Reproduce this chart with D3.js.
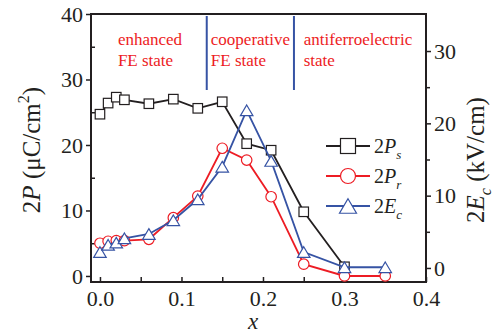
<!DOCTYPE html>
<html>
<head>
<meta charset="utf-8">
<script src="https://cdn.jsdelivr.net/npm/d3@7"></script>
</head>
<body style="margin:0">
<script>
// composition x and measured values
var xs  = [0, 0.01, 0.02, 0.03, 0.06, 0.09, 0.12, 0.15, 0.18, 0.21, 0.25, 0.30, 0.35];
var Ps  = [24.7, 26.4, 27.3, 26.9, 26.3, 27.0, 25.6, 26.6, 20.2, 19.2, 9.8, 1.4, null];
var Pr  = [5.0, 5.3, 5.4, 5.4, 5.6, 8.9, 12.2, 19.5, 17.7, 12.1, 1.8, 0.0, 0.0];
var Ec  = [2.2, 3.2, 3.5, 4.1, 4.7, 6.6, 9.5, 14.0, 21.8, 14.8, 2.2, 0.1, 0.1];

var xTicks = [0, 0.1, 0.2, 0.3, 0.4];
var yLTicks = [0, 10, 20, 30, 40];
var yRTicks = [0, 10, 20, 30];
var boundaries = [0.131, 0.238];
var regions = [
  {x: 0.022, lines: ["enhanced", "FE state"]},
  {x: 0.136, lines: ["cooperative", "FE state"]},
  {x: 0.250, lines: ["antiferroelectric", "state"]}
];

var W = 497, H = 333;
var mLeft = 91, mRight = 426, mTop = 14, mBottom = 282;
var black = "#231f20", red = "#ed1c24", blue = "#3653a4";
var fontName = "'Liberation Serif', Tinos, 'Times New Roman', 'Noto Serif', 'DejaVu Serif'";

var svg = d3.select("body").append("svg")
    .attr("width", W)
    .attr("height", H);

var x = d3.scaleLinear().domain([-0.011, 0.4]).range([mLeft, mRight]);
var yL = d3.scaleLinear().domain([-0.92, 40]).range([mBottom, mTop]);
var yR = d3.scaleLinear().domain([-1.94, 35.12]).range([mBottom, mTop]);

// axes
svg.append("g")
    .attr("transform", "translate(0," + mBottom + ")")
    .call(d3.axisBottom(x).tickValues(d3.range(0, 0.4001, 0.05)).tickSize(-5).tickFormat(""))
    .call(g => g.select(".domain").remove());
svg.append("g")
    .attr("transform", "translate(0," + mBottom + ")")
    .call(d3.axisBottom(x).tickValues(xTicks).tickSize(0).tickPadding(8).tickFormat(d3.format(".1f")))
    .call(g => g.select(".domain").remove());

svg.append("g")
    .attr("transform", "translate(" + mLeft + ",0)")
    .call(d3.axisLeft(yL).tickValues(yLTicks).tickSize(5).tickPadding(3))
    .call(g => g.select(".domain").remove());
svg.append("g")
    .attr("transform", "translate(" + mLeft + ",0)")
    .call(d3.axisLeft(yL).tickValues([5, 15, 25, 35]).tickSize(-4).tickFormat(""))
    .call(g => g.select(".domain").remove());

svg.append("g")
    .attr("transform", "translate(" + mRight + ",0)")
    .call(d3.axisRight(yR).tickValues(yRTicks).tickSize(5).tickPadding(3))
    .call(g => g.select(".domain").remove());
svg.append("g")
    .attr("transform", "translate(" + mRight + ",0)")
    .call(d3.axisRight(yR).tickValues([5, 15, 25]).tickSize(4).tickFormat(""))
    .call(g => g.select(".domain").remove());

svg.selectAll(".tick line").attr("stroke", black).attr("stroke-width", 1.5);
svg.selectAll(".tick text")
    .attr("fill", black)
    .attr("font-size", 22);

// frame
svg.append("rect")
    .attr("x", mLeft).attr("y", mTop)
    .attr("width", mRight - mLeft).attr("height", mBottom - mTop)
    .attr("fill", "none").attr("stroke", black).attr("stroke-width", 2);

// region boundaries and labels
svg.selectAll(".bound").data(boundaries).enter().append("line")
    .attr("x1", d => x(d)).attr("x2", d => x(d))
    .attr("y1", 16).attr("y2", 90)
    .attr("stroke", blue).attr("stroke-width", 2);

regions.forEach(function (r) {
  var t = svg.append("text")
      .attr("x", x(r.x)).attr("y", 45)
      .attr("fill", red)
      .attr("font-size", 17);
  r.lines.forEach(function (s, i) {
    t.append("tspan").attr("x", x(r.x)).attr("dy", i ? 21 : 0).text(s);
  });
});

// marker shapes
function square(g, s) {
  return g.append("rect").attr("x", -s / 2).attr("y", -s / 2).attr("width", s).attr("height", s);
}
function circle(g, s) {
  return g.append("circle").attr("r", s / 2);
}
function triangle(g, s) {
  var h = s * 0.85;
  return g.append("path").attr("d", "M0," + (-h / 2) + "L" + (s / 2) + "," + (h / 2) + "L" + (-s / 2) + "," + (h / 2) + "Z");
}

var series = [
  {name: "2P", sub: "s", vals: Ps, y: yL, color: black, shape: square, size: 9.5, lsize: 15},
  {name: "2P", sub: "r", vals: Pr, y: yL, color: red, shape: circle, size: 10.5, lsize: 15},
  {name: "2E", sub: "c", vals: Ec, y: yR, color: blue, shape: triangle, size: 12.5, lsize: 17}
];

series.forEach(function (s) {
  var pts = xs.map((d, i) => ({x: d, v: s.vals[i]})).filter(p => p.v != null);
  var line = d3.line().x(p => x(p.x)).y(p => s.y(p.v));
  svg.append("path")
      .datum(pts)
      .attr("d", line)
      .attr("fill", "none")
      .attr("stroke", s.color)
      .attr("stroke-width", 1.8);
  pts.forEach(function (p) {
    var g = svg.append("g").attr("transform", "translate(" + x(p.x) + "," + s.y(p.v) + ")");
    s.shape(g, s.size).attr("fill", "white").attr("stroke", s.color).attr("stroke-width", 1.2);
  });
});

// legend
series.forEach(function (s, i) {
  var ly = 146 + i * 30;
  var g = svg.append("g").attr("transform", "translate(348," + ly + ")");
  g.append("line").attr("x1", -22).attr("x2", 22).attr("stroke", s.color).attr("stroke-width", 1.8);
  s.shape(g, s.lsize).attr("fill", "white").attr("stroke", s.color).attr("stroke-width", 1.2);
  var t = svg.append("text").attr("x", 374).attr("y", ly + 7)
      .attr("fill", black)
      .attr("font-size", 20);
  t.append("tspan").text(s.name[0]);
  t.append("tspan").attr("font-style", "italic").text(s.name.slice(1));
  t.append("tspan").attr("font-style", "italic").attr("font-size", 13).attr("dy", 6).text(s.sub);
});

// axis titles
var yl = svg.append("text")
    .attr("transform", "translate(40,150) rotate(-90)")
    .attr("text-anchor", "middle")
    .attr("fill", black)
    .attr("font-size", 25);
yl.append("tspan").text("2");
yl.append("tspan").attr("font-style", "italic").text("P");
yl.append("tspan").text(" (\u03bcC/cm");
yl.append("tspan").attr("font-size", 16).attr("dy", -11).text("2");
yl.append("tspan").attr("dy", 11).text(")");

var yr = svg.append("text")
    .attr("transform", "translate(484,160) rotate(-90)")
    .attr("text-anchor", "middle")
    .attr("fill", black)
    .attr("font-size", 25);
yr.append("tspan").text("2");
yr.append("tspan").attr("font-style", "italic").text("E");
yr.append("tspan").attr("font-style", "italic").attr("font-size", 16).attr("dy", 7).text("c");
yr.append("tspan").attr("dy", -7).text(" (kV/cm)");

svg.append("text")
    .attr("x", 253).attr("y", 329)
    .attr("text-anchor", "middle")
    .attr("fill", black)
    .attr("font-size", 23)
    .attr("font-style", "italic")
    .text("x");

// one font for every text, set directly on each element
svg.selectAll("text")
    .attr("font-family", fontName)
    .style("font-family", fontName);
</script>
</body>
</html>
